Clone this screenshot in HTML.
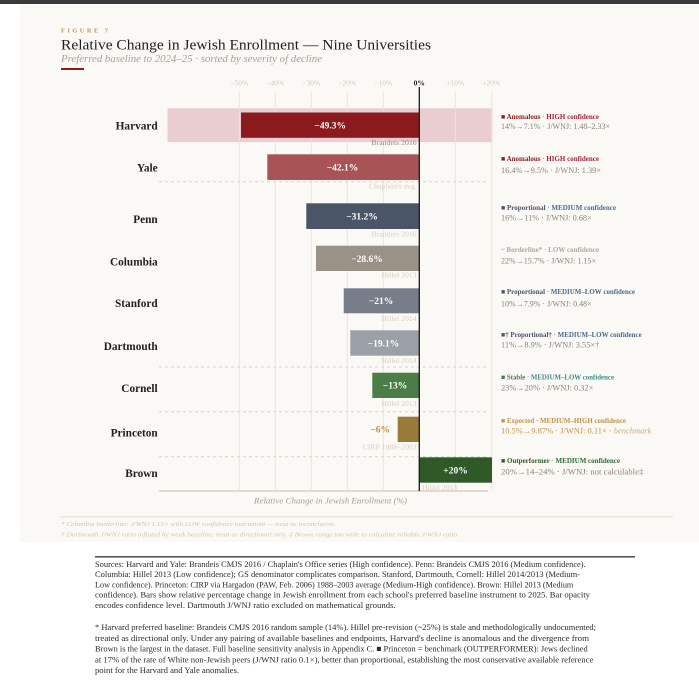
<!DOCTYPE html>
<html><head><meta charset="utf-8"><style>
html,body{margin:0;padding:0;background:#fff;}
svg{display:block;}
text{font-family:"Liberation Serif",serif;}
</style></head><body>
<svg width="699" height="680" viewBox="0 0 699 680" xmlns="http://www.w3.org/2000/svg">
<rect x="0" y="0" width="699" height="680" fill="#ffffff"/>
<rect x="0" y="0" width="699" height="4" fill="#3a3a3a"/>
<rect x="20" y="5" width="679" height="537" fill="#fbf9f5"/>

<!-- header -->
<text x="61" y="32.5" font-size="6.5" font-weight="bold" fill="#b8945a" textLength="47" lengthAdjust="spacing">FIGURE 7</text>
<text x="61" y="49.3" font-size="15" fill="#1e1e1e" textLength="370" lengthAdjust="spacingAndGlyphs">Relative Change in Jewish Enrollment — Nine Universities</text>
<text x="61" y="62" font-size="10" font-style="italic" fill="#a89f98" textLength="261" lengthAdjust="spacingAndGlyphs">Preferred baseline to 2024–25 · sorted by severity of decline</text>
<rect x="61" y="68" width="23" height="2" fill="#8b1a1e"/>

<!-- pink band -->
<rect x="167.5" y="108.3" width="325" height="33.8" fill="#eacdd0"/>

<!-- gridlines -->
<g stroke="#ebe4db" stroke-width="1">
<line x1="239.3" y1="92" x2="239.3" y2="491"/>
<line x1="275.3" y1="92" x2="275.3" y2="491"/>
<line x1="311.3" y1="92" x2="311.3" y2="491"/>
<line x1="347.3" y1="92" x2="347.3" y2="491"/>
<line x1="383.3" y1="92" x2="383.3" y2="491"/>
<line x1="455.3" y1="92" x2="455.3" y2="491"/>
<line x1="491.8" y1="92" x2="491.8" y2="491"/>
</g>

<!-- tick labels -->
<g font-size="7.5" fill="#d4c8bb" text-anchor="middle">
<text x="239.3" y="85.5">−50%</text>
<text x="275.3" y="85.5">−40%</text>
<text x="311.3" y="85.5">−30%</text>
<text x="347.3" y="85.5">−20%</text>
<text x="383.3" y="85.5">−10%</text>
<text x="455.3" y="85.5">+10%</text>
<text x="491.3" y="85.5">+20%</text>
</g>
<text x="419.3" y="85.5" font-size="7.5" font-weight="bold" fill="#1a1a1a" text-anchor="middle">0%</text>

<!-- dashed separators -->
<g stroke="#d9d1c6" stroke-width="1" stroke-dasharray="3,3">
<line x1="159" y1="181.7" x2="488" y2="181.7"/>
<line x1="159" y1="367" x2="488" y2="367"/>
<line x1="159" y1="411.7" x2="488" y2="411.7"/>
<line x1="159" y1="456.7" x2="488" y2="456.7"/>
</g>

<!-- bars -->
<rect x="241" y="112.5" width="178.3" height="25.3" fill="#8a1a1c"/>
<rect x="267.3" y="154.3" width="152" height="25.7" fill="#a85456"/>
<rect x="306.3" y="203.3" width="113" height="25.7" fill="#4b5568"/>
<rect x="316" y="245.7" width="103.3" height="25.3" fill="#9a9187"/>
<rect x="343.7" y="288.3" width="75.6" height="25" fill="#777e8a"/>
<rect x="350.3" y="330.3" width="69" height="25.4" fill="#9b9fa6"/>
<rect x="372.3" y="372.7" width="47" height="25.3" fill="#4b7d46"/>
<rect x="397.7" y="416.7" width="21.6" height="25.3" fill="#9a7a3a"/>
<rect x="419.3" y="457.3" width="72.7" height="25.4" fill="#2f5a28"/>

<!-- axis -->
<line x1="159" y1="491" x2="488" y2="491" stroke="#e2dace" stroke-width="2"/>
<line x1="419.3" y1="87" x2="419.3" y2="491" stroke="#1a1a1a" stroke-width="1.3"/>
<text x="330.5" y="503.5" font-size="8" font-style="italic" fill="#a89c90" text-anchor="middle" textLength="153" lengthAdjust="spacingAndGlyphs">Relative Change in Jewish Enrollment (%)</text>

<!-- value labels -->
<g font-size="9.5" font-weight="bold" fill="#ffffff" text-anchor="middle">
<text x="330.2" y="128.5">−49.3%</text>
<text x="342.5" y="170.5">−42.1%</text>
<text x="362" y="219.5">−31.2%</text>
<text x="367" y="261.8">−28.6%</text>
<text x="381" y="304">−21%</text>
<text x="383.5" y="346.3">−19.1%</text>
<text x="395" y="388.6">−13%</text>
<text x="455.5" y="473.3">+20%</text>
</g>
<text x="390" y="432.5" font-size="9.5" font-weight="bold" fill="#c0903a" text-anchor="end">−6%</text>

<!-- source labels -->
<g font-size="7.8" text-anchor="end" fill="#d9cdc0">
<text x="416.7" y="145" fill="#958a84">Brandeis 2016</text>
<text x="416.7" y="188.3">Chaplain's avg.</text>
<text x="416.7" y="236.6">Brandeis 2016</text>
<text x="416.7" y="277.7">Hillel 2013</text>
<text x="416.7" y="321">Hillel 2014</text>
<text x="416.7" y="363">Hillel 2014</text>
<text x="416.7" y="406">Hillel 2013</text>
<text x="416.7" y="449.7">CIRP 1988–2003</text>
</g>
<text x="422" y="490" font-size="7.8" fill="#d9cdc0">Hillel 2013</text>

<!-- university names -->
<g font-size="11.3" font-weight="bold" fill="#1e1e1e" text-anchor="end">
<text x="157.7" y="129.5">Harvard</text>
<text x="157.7" y="171.5">Yale</text>
<text x="157.7" y="222.8">Penn</text>
<text x="157.7" y="265.5">Columbia</text>
<text x="157.7" y="307">Stanford</text>
<text x="157.7" y="349.8">Dartmouth</text>
<text x="157.7" y="392">Cornell</text>
<text x="157.7" y="436.5">Princeton</text>
<text x="157.7" y="477">Brown</text>
</g>

<!-- annotations -->
<g font-size="7" font-weight="bold">
<text x="501" y="119.2" textLength="98" lengthAdjust="spacingAndGlyphs"><tspan fill="#8a1a1c">■ Anomalous</tspan><tspan fill="#a89f98"> · </tspan><tspan fill="#a3223a">HIGH confidence</tspan></text>
<text x="501" y="161.2" textLength="98" lengthAdjust="spacingAndGlyphs"><tspan fill="#8a1a1c">■ Anomalous</tspan><tspan fill="#a89f98"> · </tspan><tspan fill="#a3223a">HIGH confidence</tspan></text>
<text x="501" y="210.2" textLength="115" lengthAdjust="spacingAndGlyphs"><tspan fill="#4b5568">■ Proportional</tspan><tspan fill="#a89f98"> · </tspan><tspan fill="#4a6a94">MEDIUM confidence</tspan></text>
<text x="501" y="252.2" textLength="98" lengthAdjust="spacingAndGlyphs" fill="#b0a89f">~ Borderline* · LOW confidence</text>
<text x="501" y="294.2" textLength="134" lengthAdjust="spacingAndGlyphs"><tspan fill="#4b5568">■ Proportional</tspan><tspan fill="#a89f98"> · </tspan><tspan fill="#4a6a8e">MEDIUM–LOW confidence</tspan></text>
<text x="501" y="336.8" textLength="140.7" lengthAdjust="spacingAndGlyphs"><tspan fill="#4b5568">■† Proportional†</tspan><tspan fill="#a89f98"> · </tspan><tspan fill="#4a6a8e">MEDIUM–LOW confidence</tspan></text>
<text x="501" y="379.5" textLength="113" lengthAdjust="spacingAndGlyphs"><tspan fill="#4b7d46">■ Stable</tspan><tspan fill="#a89f98"> · </tspan><tspan fill="#3f8a86">MEDIUM–LOW confidence</tspan></text>
<text x="501" y="422.8" textLength="125" lengthAdjust="spacingAndGlyphs" fill="#c0924a">■ Expected · MEDIUM–HIGH confidence</text>
<text x="501" y="463.2" textLength="119" lengthAdjust="spacingAndGlyphs"><tspan fill="#2f5a28">■ Outperformer</tspan><tspan fill="#a89f98"> · </tspan><tspan fill="#2e6a3a">MEDIUM confidence</tspan></text>
</g>
<g font-size="8" fill="#8a817a">
<text x="501" y="129" textLength="109" lengthAdjust="spacingAndGlyphs">14%→7.1% · J/WNJ: 1.48–2.33×</text>
<text x="501" y="173" textLength="100" lengthAdjust="spacingAndGlyphs">16.4%→9.5% · J/WNJ: 1.39×</text>
<text x="501" y="220.3" textLength="90.7" lengthAdjust="spacingAndGlyphs">16%→11% · J/WNJ: 0.68×</text>
<text x="501" y="263.3" textLength="95" lengthAdjust="spacingAndGlyphs">22%→15.7% · J/WNJ: 1.15×</text>
<text x="501" y="306.3" textLength="90.7" lengthAdjust="spacingAndGlyphs">10%→7.9% · J/WNJ: 0.48×</text>
<text x="501" y="347.3" textLength="98.3" lengthAdjust="spacingAndGlyphs">11%→8.9% · J/WNJ: 3.55×†</text>
<text x="501" y="390.3" textLength="92.3" lengthAdjust="spacingAndGlyphs">23%→20% · J/WNJ: 0.32×</text>
<text x="501" y="433.3" textLength="150.3" lengthAdjust="spacingAndGlyphs"><tspan fill="#c0924a">10.5%→9.87% · J/WNJ: 0.11× · </tspan><tspan fill="#c9ab7a" font-style="italic">benchmark</tspan></text>
<text x="501" y="474.7" textLength="142.3" lengthAdjust="spacingAndGlyphs">20%→14–24% · J/WNJ: not calculable‡</text>
</g>

<!-- card footnotes -->
<line x1="60" y1="516.8" x2="673" y2="516.8" stroke="#e6e0d8" stroke-width="1.2"/>
<g font-size="6.5" font-style="italic" fill="#d6c3b0">
<text x="61" y="526" textLength="275" lengthAdjust="spacingAndGlyphs">* Columbia borderline: J/WNJ 1.15× with LOW confidence instrument — treat as inconclusive.</text>
<text x="61" y="536.3" textLength="398" lengthAdjust="spacingAndGlyphs">† Dartmouth J/WNJ ratio inflated by weak baseline; treat as directional only. ‡ Brown range too wide to calculate reliable J/WNJ ratio.</text>
</g>

<!-- bottom notes -->
<rect x="95" y="556" width="540" height="1.6" fill="#555555"/>
<g font-size="8.6" fill="#2a2a2a">
<text x="95" y="567" textLength="490.7" lengthAdjust="spacingAndGlyphs">Sources: Harvard and Yale: Brandeis CMJS 2016 / Chaplain's Office series (High confidence). Penn: Brandeis CMJS 2016 (Medium confidence).</text>
<text x="95" y="577.2" textLength="485" lengthAdjust="spacingAndGlyphs">Columbia: Hillel 2013 (Low confidence); GS denominator complicates comparison. Stanford, Dartmouth, Cornell: Hillel 2014/2013 (Medium-</text>
<text x="95" y="587.4" textLength="478.3" lengthAdjust="spacingAndGlyphs">Low confidence). Princeton: CIRP via Hargadon (PAW, Feb. 2006) 1988–2003 average (Medium-High confidence). Brown: Hillel 2013 (Medium</text>
<text x="95" y="597.6" textLength="495" lengthAdjust="spacingAndGlyphs">confidence). Bars show relative percentage change in Jewish enrollment from each school's preferred baseline instrument to 2025. Bar opacity</text>
<text x="95" y="607.8" textLength="300.7" lengthAdjust="spacingAndGlyphs">encodes confidence level. Dartmouth J/WNJ ratio excluded on mathematical grounds.</text>

<text x="95" y="630" textLength="501" lengthAdjust="spacingAndGlyphs">* Harvard preferred baseline: Brandeis CMJS 2016 random sample (14%). Hillel pre-revision (~25%) is stale and methodologically undocumented;</text>
<text x="95" y="640.8" textLength="494" lengthAdjust="spacingAndGlyphs">treated as directional only. Under any pairing of available baselines and endpoints, Harvard's decline is anomalous and the divergence from</text>
<text x="95" y="651.6" textLength="492.7" lengthAdjust="spacingAndGlyphs">Brown is the largest in the dataset. Full baseline sensitivity analysis in Appendix C. ■ Princeton = benchmark (OUTPERFORMER): Jews declined</text>
<text x="95" y="662.3" textLength="498.3" lengthAdjust="spacingAndGlyphs">at 17% of the rate of White non-Jewish peers (J/WNJ ratio 0.1×), better than proportional, establishing the most conservative available reference</text>
<text x="95" y="673" textLength="144" lengthAdjust="spacingAndGlyphs">point for the Harvard and Yale anomalies.</text>
</g>
</svg>
</body></html>
